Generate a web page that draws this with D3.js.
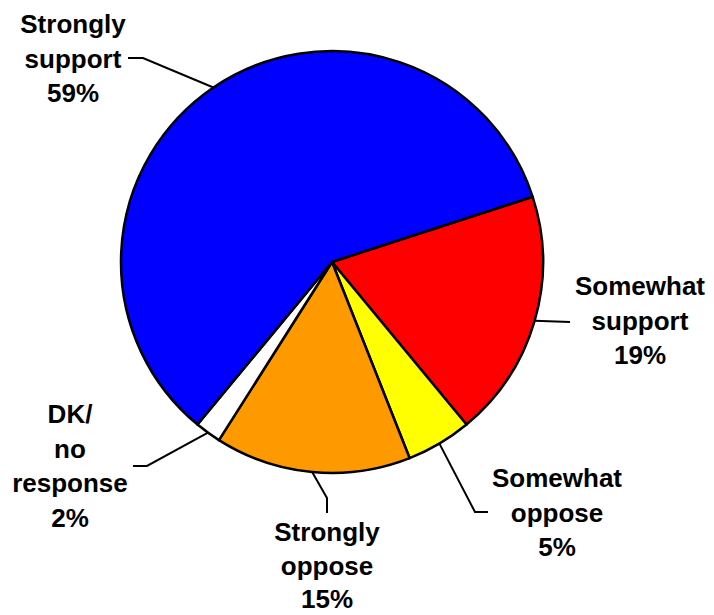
<!DOCTYPE html>
<html>
<head>
<meta charset="utf-8">
<script src="https://cdn.jsdelivr.net/npm/d3@7"></script>
<style>
  html, body { margin: 0; padding: 0; background: #fff; }
  svg { display: block; }
  text { font-family: "Liberation Sans", Arial, sans-serif; font-weight: bold; font-size: 26px; fill: #000; }
</style>
</head>
<body>
<svg id="chart" width="714" height="615"></svg>
<script>
// Data (clockwise from the start angle)
const categories = ["Somewhat support", "Somewhat oppose", "Strongly oppose", "DK/ no response", "Strongly support"];
const values = [19, 5, 15, 2, 59];
const labelLines = [
  ["Somewhat", "support", "19%"],
  ["Somewhat", "oppose", "5%"],
  ["Strongly", "oppose", "15%"],
  ["DK/", "no", "response", "2%"],
  ["Strongly", "support", "59%"]
];
const colors = ["#FF0000", "#FFFF00", "#FF9900", "#FFFFFF", "#0000FF"];

// Layout
const W = 714, H = 615;
const cx = 332, cy = 262, R = 211;
const startDeg = 72;
// label anchor (center x, first baseline y, line step) and leader elbow points (after pie edge)
const labelLayout = [
  { x: 640, y: 295, step: 34.5, leader: [[570, 322]] },
  { x: 557, y: 487, step: 34.5, leader: [[475, 512], [488, 512]] },
  { x: 327, y: 541, step: 33.5, leader: [[327, 498], [327, 513]] },
  { x: 70,  y: 423, step: 34.5, leader: [[147, 466], [133, 466]] },
  { x: 73,  y: 33,  step: 34.5, leader: [[143, 58], [128, 58]] }
];

const svg = d3.select("#chart");
const g = svg.append("g").attr("transform", `translate(${cx},${cy})`);

const pie = d3.pie().sort(null).value(d => d)
  .startAngle(startDeg * Math.PI / 180)
  .endAngle(startDeg * Math.PI / 180 + 2 * Math.PI);
const arcs = pie(values);
const arc = d3.arc().innerRadius(0).outerRadius(R);

g.selectAll("path.slice").data(arcs).join("path")
  .attr("class", "slice")
  .attr("d", arc)
  .attr("fill", (d, i) => colors[i])
  .attr("stroke", "#000")
  .attr("stroke-width", 2.5)
  .attr("stroke-linejoin", "round");

// leader lines
const line = d3.line();
arcs.forEach((a, i) => {
  const mid = (a.startAngle + a.endAngle) / 2;
  const p0 = [cx + R * Math.sin(mid), cy - R * Math.cos(mid)];
  const pts = [p0, ...labelLayout[i].leader];
  svg.append("path")
    .attr("d", line(pts))
    .attr("fill", "none")
    .attr("stroke", "#000")
    .attr("stroke-width", 2);
});

// labels
labelLines.forEach((lines, i) => {
  const L = labelLayout[i];
  const t = svg.append("text").attr("text-anchor", "middle");
  lines.forEach((s, j) => {
    t.append("tspan").attr("x", L.x).attr("y", L.y + j * L.step).text(s);
  });
});
</script>
</body>
</html>
